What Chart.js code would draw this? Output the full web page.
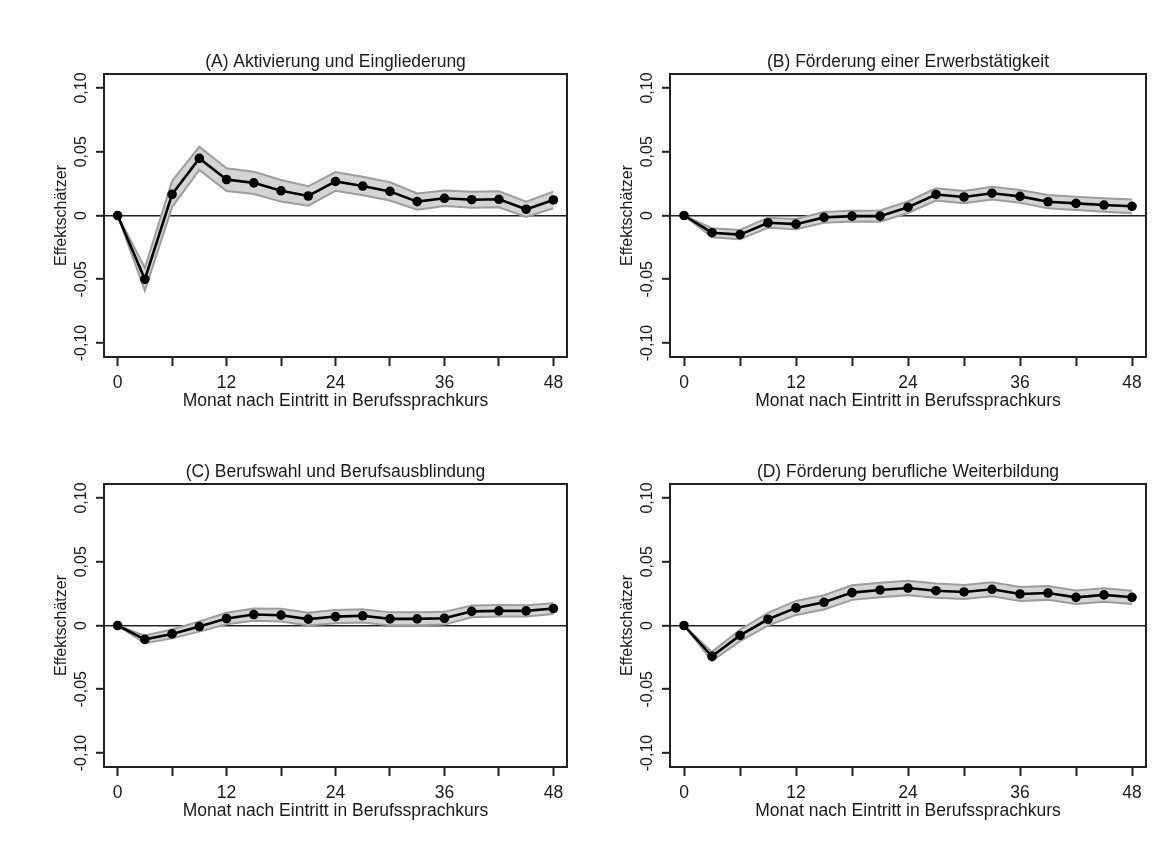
<!DOCTYPE html>
<html>
<head>
<meta charset="utf-8">
<script src="https://cdn.jsdelivr.net/npm/chart.js@4.4.0/dist/chart.umd.min.js"></script>
<style>
  html, body { margin: 0; padding: 0; background: #fff; }
  body { width: 1171px; height: 857px; position: relative; overflow: hidden; }
  canvas { position: absolute; }
</style>
</head>
<body>
<canvas id="panelA" width="600" height="420" style="left:0;top:30px"></canvas>
<canvas id="panelB" width="600" height="420" style="left:566px;top:30px"></canvas>
<canvas id="panelC" width="600" height="420" style="left:0;top:440px"></canvas>
<canvas id="panelD" width="600" height="420" style="left:566px;top:440px"></canvas>
<script>
const months = [0, 3, 6, 9, 12, 15, 18, 21, 24, 27, 30, 33, 36, 39, 42, 45, 48];
const xTicks = [0, 6, 12, 18, 24, 30, 36, 42, 48];
const xLabelTicks = [0, 12, 24, 36, 48];
const yTicks = [-0.1, -0.05, 0, 0.05, 0.1];
const yTickLabels = ['-0,10', '-0,05', '0', '0,05', '0,10'];

// (A) Aktivierung und Eingliederung
const estA = [0, -0.050, 0.0166, 0.0448, 0.0282, 0.0256, 0.0194, 0.0153, 0.0267, 0.0231, 0.0189, 0.0109, 0.0135, 0.0124, 0.0127, 0.0049, 0.0122];
const hiA  = [0, -0.041, 0.0270, 0.0540, 0.0370, 0.0343, 0.0279, 0.0229, 0.0340, 0.0304, 0.0261, 0.0173, 0.0196, 0.0187, 0.0190, 0.0109, 0.0187];
const loA  = [0, -0.059, 0.0066, 0.0358, 0.0192, 0.0169, 0.0109, 0.0077, 0.0194, 0.0158, 0.0117, 0.0045, 0.0074, 0.0061, 0.0064, -0.0011, 0.0057];

// (B) Förderung einer Erwerbstätigkeit
const estB = [0, -0.0135, -0.0150, -0.0057, -0.0068, -0.0015, -0.0005, -0.0005, 0.0065, 0.0165, 0.0145, 0.0175, 0.0150, 0.0108, 0.0095, 0.0082, 0.0072];
const hiB  = [0, -0.0100, -0.0113, -0.0017, -0.0028, 0.0027, 0.0038, 0.0039, 0.0110, 0.0213, 0.0193, 0.0225, 0.0200, 0.0160, 0.0147, 0.0135, 0.0126];
const loB  = [0, -0.0170, -0.0187, -0.0097, -0.0108, -0.0057, -0.0048, -0.0049, 0.0020, 0.0117, 0.0097, 0.0125, 0.0100, 0.0056, 0.0043, 0.0029, 0.0018];

// (C) Berufswahl und Berufsausblindung
const estC = [0, -0.0109, -0.0066, -0.0008, 0.0055, 0.0086, 0.0081, 0.0050, 0.0070, 0.0076, 0.0052, 0.0052, 0.0057, 0.0111, 0.0115, 0.0115, 0.0133];
const hiC  = [0, -0.0079, -0.0031, 0.0032, 0.0100, 0.0134, 0.0131, 0.0100, 0.0122, 0.0128, 0.0103, 0.0103, 0.0107, 0.0157, 0.0160, 0.0159, 0.0175];
const loC  = [0, -0.0139, -0.0101, -0.0048, 0.0010, 0.0038, 0.0031, 0.0000, 0.0018, 0.0024, 0.0001, 0.0001, 0.0007, 0.0065, 0.0070, 0.0071, 0.0091];

// (D) Förderung berufliche Weiterbildung
const estD = [0, -0.0242, -0.0078, 0.0049, 0.0138, 0.0182, 0.0258, 0.0279, 0.0294, 0.0273, 0.0263, 0.0284, 0.0247, 0.0255, 0.0221, 0.0240, 0.0221];
const hiD  = [0, -0.0207, -0.0033, 0.0099, 0.0193, 0.0238, 0.0315, 0.0336, 0.0351, 0.0329, 0.0318, 0.0339, 0.0302, 0.0309, 0.0274, 0.0293, 0.0273];
const loD  = [0, -0.0277, -0.0123, -0.0001, 0.0083, 0.0126, 0.0201, 0.0222, 0.0237, 0.0217, 0.0208, 0.0229, 0.0192, 0.0201, 0.0168, 0.0187, 0.0169];

const FONT = '"Liberation Sans", Arial, sans-serif';
const TEXT = '#1a1a1a';

const pts = arr => months.map((m, i) => ({ x: m, y: arr[i] }));

// frame round the plot area, panel title centred on it, vertical y tick labels
const panelFrame = {
    id: 'panelFrame',
    afterDraw(chart, args, opts) {
        const { ctx, chartArea: a } = chart;
        const y = chart.scales.y;
        ctx.save();
        ctx.strokeStyle = '#222';
        ctx.lineWidth = 2;
        ctx.strokeRect(a.left, a.top, a.right - a.left, a.bottom - a.top);
        ctx.fillStyle = TEXT;
        ctx.textAlign = 'center';
        ctx.textBaseline = 'middle';
        ctx.font = '17.5px ' + FONT;
        ctx.fillText(opts.title, (a.left + a.right) / 2, a.top - 12);
        ctx.font = '16px ' + FONT;
        yTicks.forEach((v, i) => {
            ctx.save();
            ctx.translate(a.left - 22, y.getPixelForValue(v));
            ctx.rotate(-Math.PI / 2);
            ctx.fillText(yTickLabels[i], 0, 0);
            ctx.restore();
        });
        ctx.restore();
    }
};

function makePanel(id, title, est, lo, hi, padRight) {
    new Chart(document.getElementById(id), {
        type: 'line',
        data: {
            datasets: [
                { data: pts(est), borderColor: '#000', borderWidth: 2.6, pointRadius: 4.8,
                  pointBackgroundColor: '#000', pointBorderWidth: 0, fill: false, order: 0 },
                { data: pts(hi), borderColor: '#9d9d9d', borderWidth: 2, pointRadius: 0,
                  backgroundColor: '#d4d4d4', fill: '+1', order: 1 },
                { data: pts(lo), borderColor: '#9d9d9d', borderWidth: 2, pointRadius: 0,
                  fill: false, order: 2 }
            ]
        },
        options: {
            responsive: false,
            animation: false,
            layout: { padding: { top: 44, left: 0, right: padRight, bottom: 33 } },
            plugins: {
                legend: { display: false },
                tooltip: { enabled: false },
                filler: { drawTime: 'beforeDatasetsDraw' },
                panelFrame: { title: title }
            },
            scales: {
                x: {
                    type: 'linear', min: -1.5, max: 49.5,
                    afterBuildTicks: s => { s.ticks = xTicks.map(v => ({ value: v })); },
                    afterFit: s => { s.height = 60; },
                    border: { display: false },
                    grid: { drawOnChartArea: false, drawTicks: true, tickLength: 9, tickWidth: 2, tickColor: '#222' },
                    ticks: {
                        padding: 6.5, color: TEXT, maxRotation: 0, autoSkip: false,
                        font: { size: 17.5, family: FONT },
                        callback: v => xLabelTicks.includes(v) ? String(v) : ''
                    },
                    title: {
                        display: true, text: 'Monat nach Eintritt in Berufssprachkurs', color: TEXT,
                        font: { size: 17.5, family: FONT }, padding: { top: 0, bottom: 5.5 }
                    }
                },
                y: {
                    min: -0.111, max: 0.111,
                    afterBuildTicks: s => { s.ticks = yTicks.map(v => ({ value: v })); },
                    afterFit: s => { s.width = 104; },
                    border: { display: false },
                    grid: {
                        drawTicks: true, tickLength: 8, tickWidth: 2, tickColor: '#222',
                        color: c => (c.tick && c.tick.value === 0) ? '#222' : 'rgba(0,0,0,0)',
                        lineWidth: 1.6
                    },
                    ticks: { display: false },
                    title: {
                        display: true, text: 'Effektschätzer', color: TEXT,
                        font: { size: 16, family: FONT }, padding: { top: 52.4, bottom: 0 }
                    }
                }
            }
        },
        plugins: [panelFrame]
    });
}

makePanel('panelA', '(A) Aktivierung und Eingliederung', estA, loA, hiA, 33);
makePanel('panelB', '(B) Förderung einer Erwerbstätigkeit', estB, loB, hiB, 20);
makePanel('panelC', '(C) Berufswahl und Berufsausblindung', estC, loC, hiC, 33);
makePanel('panelD', '(D) Förderung berufliche Weiterbildung', estD, loD, hiD, 20);
</script>
</body>
</html>
